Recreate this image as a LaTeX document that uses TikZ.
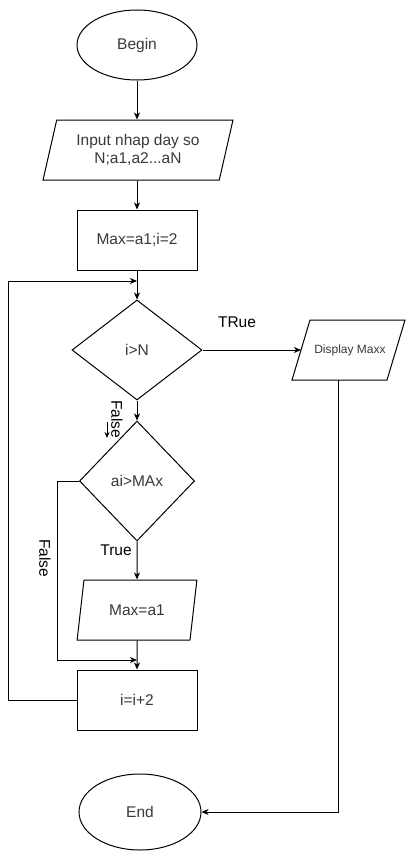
\documentclass[tikz,border=0pt]{standalone}
\usepackage{fontspec}
\setmainfont{Liberation Sans}
\usetikzlibrary{shapes.geometric,arrows.meta}
\definecolor{txt}{gray}{0.22}
\begin{document}
\begin{tikzpicture}[x=1pt,y=-1pt,line width=1pt,
  base/.style={draw,inner sep=0pt,text=txt,font=\fontsize{15.5}{18}\selectfont,align=center},
  box/.style={base,rectangle,minimum width=120pt,minimum height=60pt},
  term/.style={base,ellipse,minimum width=120pt,minimum height=70pt},
  io/.style={base,trapezium,trapezium left angle=71.6,trapezium right angle=108.4,trapezium stretches=true,minimum width=120pt,minimum height=60pt},
  dec/.style={base,diamond},
  arr/.style={-{Stealth[length=7pt,width=6pt,inset=2pt]}},
  lbl/.style={inner sep=0pt,font=\fontsize{15.5}{18}\selectfont}]
\useasboundingbox (0,0) rectangle (412,851);
\node[term] (begin) at (137,45) {Begin};
\node[io,minimum width=190pt] (input) at (138,150) {Input nhap day so\\N;a1,a2...aN};
\node[box] (init) at (137,240) {Max=a1;i=2};
\node[dec,minimum width=130pt,minimum height=100pt] (d1) at (137,350) {i>N};
\node[inner sep=0pt,text=txt,font=\fontsize{12}{14}\selectfont] (disp) at (350,350) {Display Maxx};
\draw (292,380) -- (310,320) -- (405,320) -- (387,380) -- cycle;
\coordinate (dw) at (301,350);
\node[dec,minimum width=115pt,minimum height=120pt] (d2) at (137,481) {ai>MAx};
\node[io] (set) at (137,610) {Max=a1};
\node[box] (inc) at (137,700) {i=i+2};
\node[term,minimum width=122pt,minimum height=76pt] (end) at (140,812) {End};

\node[lbl] (ltrue1) at (237,322) {TRue};
\node[lbl,rotate=-90] (lfalse1) at (117,419) {False};
\node[lbl] (ltrue2) at (116,550) {True};
\node[lbl,rotate=-90] (lfalse2) at (45,558) {False};

\coordinate (fa) at (107,422);
\coordinate (fb) at (107,438);
\coordinate (c2) at (57,660);
\coordinate (c3) at (137,660);
\coordinate (l1) at (8,700);
\coordinate (l2) at (8,281);
\coordinate (l3) at (137,281);
\coordinate (e0) at (338,380);
\coordinate (e1) at (338,812);

\draw[arr] (begin.south) -- (begin.south |- input.north);
\draw[arr] (input.south -| init.north) -- (init.north);
\draw[arr] (init.south) -- (d1.north);
\draw[arr] (d1.east) -- (dw);
\draw[arr] (d1.south) -- (d2.north);
\draw[-{Stealth[length=6pt,width=5pt,inset=2pt]}] (fa) -- (fb);
\draw[arr] (d2.south) -- (set.north);
\draw[arr] (set.south) -- (inc.north);
\draw[arr] (d2.west) -| (c2) -- (c3);
\draw[arr] (inc.west) -- (l1) -- (l2) -- (l3);
\draw[arr] (e0) -- (e1) -- (end.east);
\end{tikzpicture}
\end{document}
